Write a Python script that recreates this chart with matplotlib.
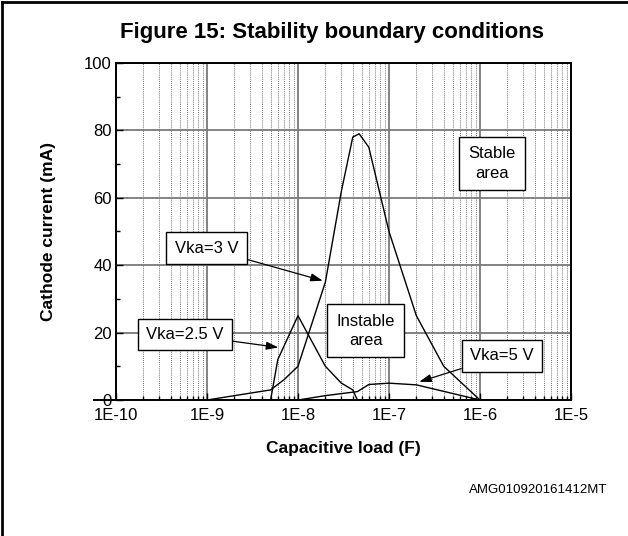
import matplotlib
matplotlib.use("Agg")
import matplotlib.pyplot as plt
from matplotlib.lines import Line2D
from matplotlib.ticker import LogLocator, MultipleLocator, NullFormatter
import numpy as np

plt.rcParams['font.family'] = ['Liberation Sans', 'DejaVu Sans']

# Vka = 3 V boundary
cap_3v = [1e-9, 5e-9, 7e-9, 1e-8, 2e-8, 3e-8, 4e-8, 4.7e-8, 6e-8, 1e-7, 2e-7, 4e-7, 1e-6]
cur_3v = [0, 3, 6, 10, 35, 62, 78, 79, 75, 50, 25, 10, 0]

# Vka = 2.5 V boundary
cap_25v = [5e-9, 6e-9, 1e-8, 2e-8, 3e-8, 4e-8, 4.5e-8]
cur_25v = [0, 12, 25, 10, 5, 3, 0]

# Vka = 5 V boundary
cap_5v = [1e-8, 2e-8, 4.5e-8, 6e-8, 1e-7, 2e-7, 1e-6]
cur_5v = [0, 1.3, 2.5, 4.6, 5, 4.5, 0]

x_ticks = [1e-10, 1e-9, 1e-8, 1e-7, 1e-6, 1e-5]
x_tick_labels = ["1E-10", "1E-9", "1E-8", "1E-7", "1E-6", "1E-5"]
y_ticks = [0, 20, 40, 60, 80, 100]


def main():
    fig = plt.figure(figsize=(6.28, 5.36), dpi=100)
    ax = fig.add_axes([0.1847, 0.2537, 0.7245, 0.6288])

    ax.plot(cap_3v, cur_3v, color='black', lw=1.0)
    ax.plot(cap_25v, cur_25v, color='black', lw=1.0)
    ax.plot(cap_5v, cur_5v, color='black', lw=1.0)

    ax.set_xscale('log')
    ax.set_xlim(1e-10, 1e-5)
    ax.set_ylim(0, 100)
    ax.set_xticks(x_ticks)
    ax.set_xticklabels(x_tick_labels)
    ax.xaxis.set_minor_locator(LogLocator(base=10, subs=np.arange(2, 10)))
    ax.xaxis.set_minor_formatter(NullFormatter())
    ax.set_yticks(y_ticks)
    ax.yaxis.set_minor_locator(MultipleLocator(10))

    # grid: solid grey major lines, dotted minor verticals
    ax.grid(True, which='major', color='#7a7a7a', lw=1.3, ls='-')
    ax.grid(True, which='minor', axis='x', color='#444444', lw=0.6, ls=(0, (1, 1.5)))
    ax.set_axisbelow(True)

    ax.tick_params(which='both', direction='in', top=False, right=False, labelsize=12)
    ax.tick_params(axis='x', pad=6)
    ax.tick_params(axis='y', pad=3)
    ax.tick_params(which='major', length=5, width=1)
    ax.tick_params(which='minor', length=3, width=1)
    for s in ax.spines.values():
        s.set_linewidth(1.4)

    ax.set_xlabel('Capacitive load (F)', fontsize=12.5, fontweight='bold', labelpad=13)
    ax.set_ylabel('Cathode current (mA)', fontsize=12.5, fontweight='bold', labelpad=20)
    fig.text(0.529, 0.94, 'Figure 15: Stability boundary conditions',
             ha='center', va='center', fontsize=16, fontweight='bold')
    fig.text(0.967, 0.086, 'AMG010920161412MT', ha='right', va='center', fontsize=9.5)

    box = dict(boxstyle='square,pad=0.5', fc='white', ec='black', lw=1.0)
    box2 = dict(boxstyle='square,pad=0.55', fc='white', ec='black', lw=1.0)
    arrow = dict(arrowstyle='-|>,head_length=0.6,head_width=0.2', color='black', lw=0.9,
                 shrinkA=0, shrinkB=0)
    ax.annotate('Vka=3 V', xy=(1.87e-8, 35.4), xytext=(0.199, 0.451),
                textcoords='axes fraction', ha='center', va='center', fontsize=12,
                bbox=box, arrowprops=arrow)
    ax.annotate('Vka=2.5 V', xy=(6.08e-9, 15.6), xytext=(0.151, 0.194),
                textcoords='axes fraction', ha='center', va='center', fontsize=12,
                bbox=box, arrowprops=arrow)
    ax.annotate('Vka=5 V', xy=(2.15e-7, 5.4), xytext=(0.848, 0.131),
                textcoords='axes fraction', ha='center', va='center', fontsize=12,
                bbox=box, arrowprops=arrow)
    ax.text(0.549, 0.205, 'Instable\narea', transform=ax.transAxes, ha='center',
            va='center', fontsize=12, bbox=box2, linespacing=1.4)
    ax.text(0.826, 0.701, 'Stable\narea', transform=ax.transAxes, ha='center',
            va='center', fontsize=12, bbox=box2, linespacing=1.4)

    # x axis line runs a little past the left edge
    fig.add_artist(Line2D([94 / 628, 116 / 628], [0.2537, 0.2537], color='black', lw=1.4))
    # page frame (left and top edges)
    fig.add_artist(Line2D([0.003, 0.003], [0, 0.997], color='black', lw=2))
    fig.add_artist(Line2D([0.003, 1], [0.997, 0.997], color='black', lw=2))

    fig.savefig('out.png', dpi=100)
    plt.close(fig)


if __name__ == "__main__":
    main()
